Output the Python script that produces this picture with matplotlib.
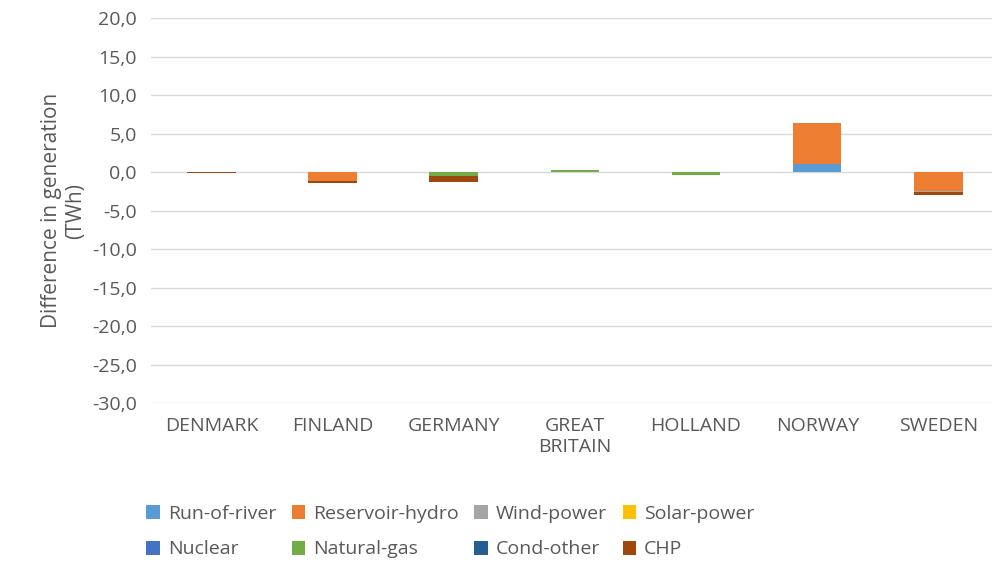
import matplotlib.pyplot as plt
import numpy as np

plt.rcParams['font.family'] = ['Open Sans', 'DejaVu Sans']

countries = ['DENMARK', 'FINLAND', 'GERMANY', 'GREAT\nBRITAIN', 'HOLLAND', 'NORWAY', 'SWEDEN']
series = ['Run-of-river', 'Reservoir-hydro', 'Wind-power', 'Solar-power',
          'Nuclear', 'Natural-gas', 'Cond-other', 'CHP']
colors = ['#5B9BD5', '#ED7D31', '#A5A5A5', '#FFC000', '#4472C4', '#70AD47', '#255E91', '#9E480E']

run_of_river = [0.0, 0.0, 0.0, 0.0, 0.0, 1.05, 0.0]
reservoir = [0.0, -1.1, 0.0, 0.0, 0.0, 5.3, -2.45]
wind = [-0.02, -0.03, 0.0, 0.05, 0.0, 0.0, -0.1]
solar = [0.0, 0.0, 0.0, 0.0, 0.0, 0.0, 0.0]
nuclear = [0.0, 0.0, 0.0, 0.0, 0.0, 0.0, 0.0]
gas = [0.0, 0.0, -0.5, 0.2, -0.3, 0.0, 0.0]
cond_other = [0.0, 0.0, 0.0, 0.0, 0.0, 0.0, 0.0]
chp = [-0.1, -0.25, -0.8, 0.0, 0.0, 0.0, -0.35]
values = [run_of_river, reservoir, wind, solar, nuclear, gas, cond_other, chp]

fig = plt.figure(figsize=(9.92, 5.76), dpi=100)
ax = fig.add_axes([0.152, 0.30, 0.855, 0.668])
x = np.arange(len(countries))
pos = np.zeros(len(countries))
neg = np.zeros(len(countries))
handles = []
for name, vals, c in zip(series, values, colors):
    v = np.array(vals)
    bottom = np.where(v >= 0, pos, neg)
    h = ax.bar(x, v, 0.4, bottom=bottom, color=c, label=name, zorder=3)
    handles.append(h)
    pos += np.where(v >= 0, v, 0)
    neg += np.where(v < 0, v, 0)

ax.set_ylim(-30, 20)
ax.set_yticks(np.arange(-30, 21, 5))
ax.set_yticklabels([f'{t:.1f}'.replace('.', ',') for t in np.arange(-30, 21, 5)])
ax.set_xticks(x)
ax.set_xticklabels(countries)
ax.set_xlim(-0.5, len(countries) - 0.5)
ax.grid(axis='y', color='#D9D9D9', lw=1, zorder=0)
ax.set_axisbelow(True)
for s in ax.spines.values():
    s.set_visible(False)
ax.tick_params(length=0, labelsize=14, colors='#595959', pad=10)
ax.set_ylabel('Difference in generation\n(TWh)', fontsize=15, color='#595959')

# column-major legend -> reorder so rows read like the reference
order = [0, 4, 1, 5, 2, 6, 3, 7]
fig.legend([handles[i] for i in order], [series[i] for i in order],
           loc='lower left', bbox_to_anchor=(0.13, 0.0), ncol=4, frameon=False,
           fontsize=14, labelcolor='#595959', handlelength=0.7, handleheight=0.7,
           handletextpad=0.4, columnspacing=0.8, labelspacing=0.9)
fig.savefig('out.png')
